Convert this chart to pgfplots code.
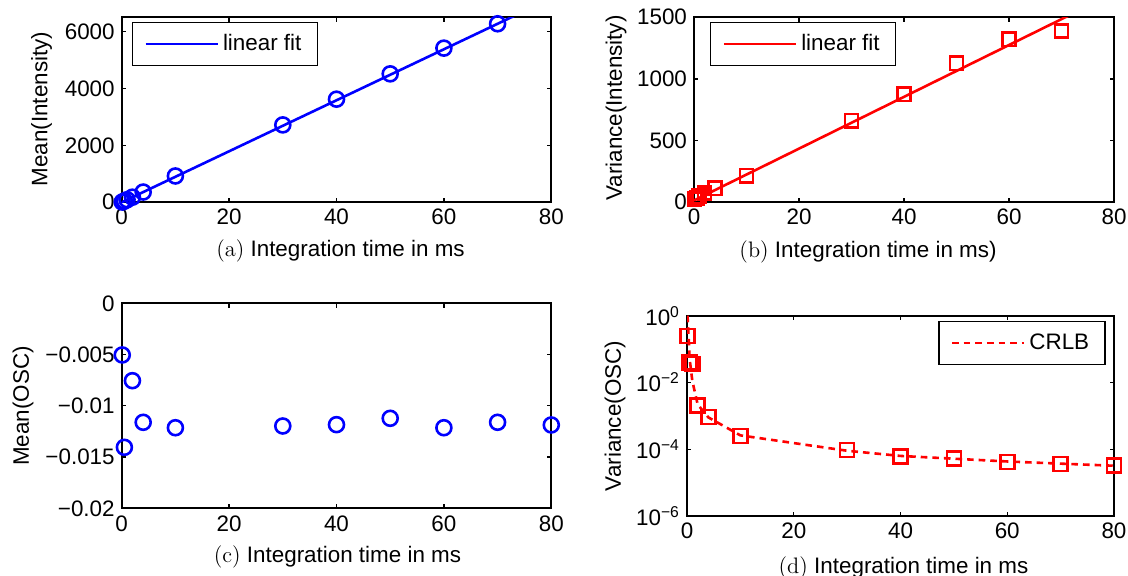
\documentclass[border=0pt]{standalone}
\usepackage{fontspec}
\setsansfont{Liberation Sans}
\usepackage{pgfplots}
\pgfplotsset{compat=1.18}
\newcommand{\fnt}{\sffamily\fontsize{11.2}{13}\selectfont}
\begin{document}
\begin{tikzpicture}[font=\fnt]
\useasboundingbox (0pt,0pt) rectangle (564pt,288pt);
\pgfplotsset{
  every axis/.append style={
    scale only axis, anchor=south west,
    xmin=0, xmax=80, xtick={0,20,40,60,80}, xticklabels={0,20,40,60,80},
    axis line style={line width=0.9pt},
    every tick/.style={black, line width=0.7pt},
    major tick length=2.2pt, scaled ticks=false,
    tick label style={font=\fnt},
    legend style={draw=black, line width=0.7pt, fill=white, font=\fnt,
      inner xsep=6pt, inner ysep=4pt, legend cell align=left},
  },
}
% (a)
\begin{axis}[at={(60.85pt,186.85pt)}, width=214.8pt, height=92.5pt,
  ymin=0, ymax=6500, ytick={0,2000,4000,6000}, yticklabels={0,2000,4000,6000},
  legend style={at={(0.0233,0.976)}, anchor=north west},
  legend image code/.code={\draw[#1, line width=1.3pt] (0pt,0pt) -- (36pt,0pt);}]
\addplot[blue, line width=1.3pt] coordinates {(0,0) (80,7168)};
\addlegendentry{linear fit}
\addplot[blue, only marks, mark=o, mark size=3.75pt, mark options={line width=1.3pt}, forget plot]
  coordinates {(0.1,9) (0.5,45) (1,90) (2,180) (4,360) (10,925) (30,2719) (40,3623) (50,4513) (60,5417) (70,6272)};
\end{axis}
% (b)
\begin{axis}[at={(347pt,186.85pt)}, width=210pt, height=92.5pt,
  ymin=0, ymax=1500, ytick={0,500,1000,1500}, yticklabels={0,500,1000,1500},
  legend style={at={(0.038,0.976)}, anchor=north west},
  legend image code/.code={\draw[#1, line width=1.3pt] (0pt,0pt) -- (36pt,0pt);}]
\addplot[red, line width=1.3pt] coordinates {(0,15) (80,1695)};
\addlegendentry{linear fit}
\addplot[red, only marks, mark=square, mark size=3.3pt, mark options={line width=1.3pt}, forget plot]
  coordinates {(0.1,25) (0.5,35) (1,48) (2,75) (4,113) (10,216) (30,662) (40,876) (50,1127) (60,1322) (70,1389)};
\end{axis}
% (c)
\begin{axis}[at={(60.85pt,33.85pt)}, width=214.8pt, height=102.5pt,
  ymin=-0.02, ymax=0, ytick={-0.02,-0.015,-0.01,-0.005,0},
  yticklabels={−0.02,−0.015,−0.01,−0.005,0}]
\addplot[blue, only marks, mark=o, mark size=3.75pt, mark options={line width=1.3pt}]
  coordinates {(0.1,-0.00504) (0.5,-0.01405) (2,-0.00755) (4,-0.01161) (10,-0.01214) (30,-0.01197) (40,-0.01184) (50,-0.01122) (60,-0.01214) (70,-0.01161) (80,-0.01187)};
\end{axis}
% (d)
\begin{axis}[at={(343.5pt,30pt)}, width=213.5pt, height=100.15pt,
  ymode=log, ymin=1e-6, ymax=1, ytick={1e-6,1e-4,1e-2,1}, yminorticks=false,
  yticklabels={10\textsuperscript{−6},10\textsuperscript{−4},10\textsuperscript{−2},10\textsuperscript{0}},
  legend style={at={(0.981,0.9735)}, anchor=north east},
  legend image code/.code={\draw[#1, line width=1.3pt] (0pt,0pt) -- (36pt,0pt);}]
\addplot[red, only marks, mark=square, mark size=3.5pt, mark options={line width=1.3pt, solid}, forget plot]
  coordinates {(0.1,0.246) (0.5,0.039) (1,0.036) (2,0.0020) (4,9.2e-4) (10,2.5e-4) (30,9.5e-5) (40,6.0e-5) (50,5.3e-5) (60,4.1e-5) (70,3.6e-5) (80,3.2e-5)};
\addplot[red, line width=1.3pt, dash pattern=on 3.3pt off 2.5pt]
  coordinates {(0.1,1) (0.5,0.05) (1,0.011) (2,0.0022) (4,9e-4) (10,2.6e-4) (30,9e-5) (40,6.3e-5) (50,5.2e-5) (60,4.3e-5) (70,3.7e-5) (80,3.2e-5)};
\addlegendentry{CRLB}
\end{axis}
% y labels
\node[rotate=90] at (20.85pt,233.5pt) {Mean(Intensity)};
\node[rotate=90] at (308pt,234pt) {Variance(Intensity)};
\node[rotate=90] at (11.5pt,85pt) {Mean(OSC)};
\node[rotate=90] at (307.5pt,80pt) {Variance(OSC)};
% captions
\node at (170.25pt,162.5pt) {{\rmfamily (a)} Integration time in ms};
\node at (434pt,162pt) {{\rmfamily (b)} Integration time in ms)};
\node at (168.75pt,9.65pt) {{\rmfamily (c)} Integration time in ms};
\node at (451.75pt,4pt) {{\rmfamily (d)} Integration time in ms};
\end{tikzpicture}
\end{document}
